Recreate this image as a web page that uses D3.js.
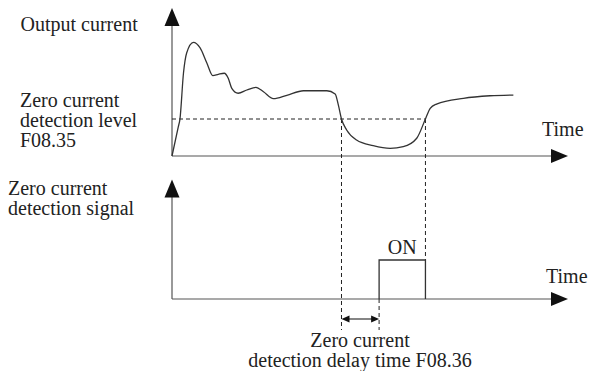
<!DOCTYPE html>
<html>
<head>
<meta charset="utf-8">
<script src="https://cdn.jsdelivr.net/npm/d3@7"></script>
<style>
  html, body { margin: 0; padding: 0; background: #fff; }
  svg { display: block; }
</style>
</head>
<body>
<svg id="chart" width="590" height="371"></svg>
<script>
// Output current over time (time units, current units)
const currentTime = [0, 0.16, 0.20, 0.29, 0.37, 0.54, 0.71, 0.88, 1.03, 1.17, 1.32, 1.42, 1.51, 1.67, 1.89, 2.12, 2.31, 2.56, 2.90, 3.32, 3.91, 4.12, 4.20, 4.28, 4.41, 4.66, 5.08, 5.51, 5.84, 6.18, 6.40, 6.52, 6.68, 7.36, 8.03, 8.62];
const currentValue = [0, 1.98, 2.48, 5.61, 6.96, 7.68, 7.30, 6.28, 5.43, 5.52, 5.59, 5.25, 4.57, 4.24, 4.46, 4.64, 4.34, 3.87, 4.10, 4.41, 4.41, 4.19, 3.45, 2.50, 1.76, 1.08, 0.70, 0.52, 0.63, 1.20, 2.50, 3.22, 3.51, 3.90, 4.07, 4.12];

// Zero current detection level (F08.35) and delay time (F08.36)
const detectionLevel = 2.5;
const dropTime = 4.28;      // current falls below the level
const recoverTime = 6.40;   // current rises back above the level
const delayTime = 0.95;     // F08.36

// Detection signal: off / on
const signalTime = [dropTime + delayTime, dropTime + delayTime, recoverTime, recoverTime];
const signalValue = [0, 1, 1, 0];

// Text
const topLabel = ["Output current"];
const levelLabel = ["Zero current", "detection level", "F08.35"];
const signalLabel = ["Zero current", "detection signal"];
const delayLabel = ["Zero current", "detection delay time F08.36"];
const timeLabel = "Time";
const onLabel = "ON";

const FONT = "Liberation Serif";

const svg = d3.select("#chart");
const axisColor = "#555";
const lineColor = "#333";

const x = d3.scaleLinear().domain([0, 10]).range([172, 568]);
const yTop = d3.scaleLinear().domain([0, 10]).range([156, 8]);
const yBot = d3.scaleLinear().domain([0, 1]).range([299, 260]);

// Arrow-headed axis: vertical from (x0, yBase) to yTip, horizontal to xTip
function axes(yBase, yTipV, xTipH) {
  const x0 = x(0);
  svg.append("line").attr("x1", x0).attr("y1", yBase).attr("x2", x0).attr("y2", yTipV + 14)
    .attr("stroke", axisColor).attr("stroke-width", 1.2);
  svg.append("path")
    .attr("d", `M${x0},${yTipV} L${x0 - 7.5},${yTipV + 18} L${x0 + 7.5},${yTipV + 18} Z`)
    .attr("fill", "#111");
  svg.append("line").attr("x1", x0).attr("y1", yBase).attr("x2", xTipH - 12).attr("y2", yBase)
    .attr("stroke", axisColor).attr("stroke-width", 1.2);
  svg.append("path")
    .attr("d", `M${xTipH},${yBase} L${xTipH - 17},${yBase - 7} L${xTipH - 17},${yBase + 7} Z`)
    .attr("fill", "#111");
}

axes(yTop(0), 8, 568);
axes(yBot(0), 179.5, 568);

const dash = "4,3";
const dashed = (x1, y1, x2, y2) =>
  svg.append("line").attr("x1", x1).attr("y1", y1).attr("x2", x2).attr("y2", y2)
    .attr("stroke", "#222").attr("stroke-width", 1).attr("stroke-dasharray", dash);

// Detection level
dashed(x(0), yTop(detectionLevel), x(recoverTime), yTop(detectionLevel));
// Drop-below instant, reaching down past the lower axis
dashed(x(dropTime), yTop(detectionLevel), x(dropTime), 330);
// Recover instant, down to the signal top
dashed(x(recoverTime), yTop(detectionLevel), x(recoverTime), yBot(1));
// Signal-on instant below the lower axis
dashed(x(dropTime + delayTime), yBot(0), x(dropTime + delayTime), 330);

// Output current curve
const currentData = currentTime.map((t, i) => ({ t, v: currentValue[i] }));
svg.append("path")
  .datum(currentData)
  .attr("fill", "none").attr("stroke", lineColor).attr("stroke-width", 1.3)
  .attr("d", d3.line().x(d => x(d.t)).y(d => yTop(d.v)).curve(d3.curveMonotoneX));

// Detection signal pulse
const signalData = signalTime.map((t, i) => ({ t, v: signalValue[i] }));
svg.append("path")
  .datum(signalData)
  .attr("fill", "none").attr("stroke", lineColor).attr("stroke-width", 1.3)
  .attr("d", d3.line().x(d => x(d.t)).y(d => yBot(d.v)));

// Delay-time double arrow
const ay = 319;
const ax1 = x(dropTime), ax2 = x(dropTime + delayTime);
svg.append("line").attr("x1", ax1 + 5).attr("y1", ay).attr("x2", ax2 - 5).attr("y2", ay)
  .attr("stroke", "#222").attr("stroke-width", 1.1);
svg.append("path").attr("d", `M${ax1},${ay} L${ax1 + 8},${ay - 3.5} L${ax1 + 8},${ay + 3.5} Z`).attr("fill", "#111");
svg.append("path").attr("d", `M${ax2},${ay} L${ax2 - 8},${ay - 3.5} L${ax2 - 8},${ay + 3.5} Z`).attr("fill", "#111");

// Labels
function label(s, xPos, yPos, anchor) {
  return svg.append("text")
    .attr("x", xPos).attr("y", yPos)
    .attr("text-anchor", anchor || "start")
    .attr("font-family", FONT).attr("font-size", 20).attr("fill", "#222")
    .text(s);
}
function block(lines, xPos, yFirst, step, anchor) {
  lines.forEach((s, i) => label(s, xPos, yFirst + i * step, anchor));
}
block(topLabel, 20.5, 31, 20);
block(levelLabel, 20, 106.5, 20);
block(signalLabel, 8, 194.5, 20);
block(delayLabel, 360, 347, 20, "middle");

label(timeLabel, 542, 135.5);
label(timeLabel, 546, 282.5);
label(onLabel, (x(signalTime[1]) + x(signalTime[2])) / 2, 253.5, "middle");
</script>
</body>
</html>
